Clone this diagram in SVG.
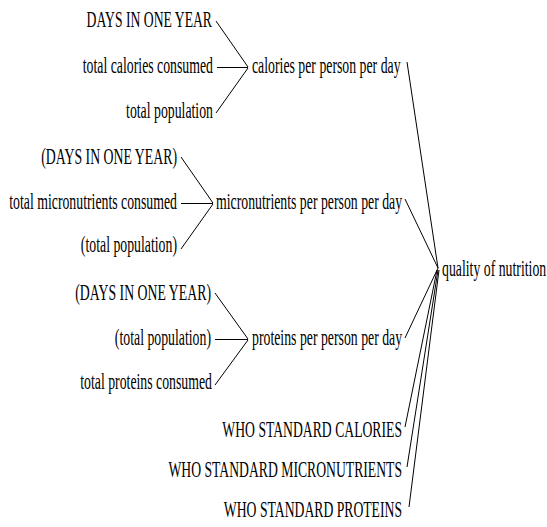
<svg xmlns="http://www.w3.org/2000/svg" width="547" height="527" viewBox="0 0 547 527">
<style>
text{font-family:"Liberation Serif","Times New Roman",serif;font-size:23px;fill:#000}
.e{text-anchor:end}
.c line{stroke:#000;stroke-width:1;fill:none}
</style>
<rect width="547" height="527" fill="#fff"/>
<g id="days1"><text class="e" transform="translate(212,27) scale(0.595,1)">DAYS IN ONE YEAR</text></g>
<g id="totcal"><text class="e" transform="translate(213,73) scale(0.6,1)">total calories consumed</text></g>
<g id="totpop1"><text class="e" transform="translate(213,118) scale(0.6,1)">total population</text></g>
<g id="calpp"><text transform="translate(252,73) scale(0.6,1)">calories per person per day</text></g>
<g id="days2"><text class="e" transform="translate(177,164) scale(0.6,1)">(DAYS IN ONE YEAR)</text></g>
<g id="totmic"><text class="e" transform="translate(177,209) scale(0.6,1)">total micronutrients consumed</text></g>
<g id="totpop2"><text class="e" transform="translate(177,252) scale(0.6,1)">(total population)</text></g>
<g id="micpp"><text transform="translate(216,209) scale(0.6,1)">micronutrients per person per day</text></g>
<g id="days3"><text class="e" transform="translate(211,300) scale(0.6,1)">(DAYS IN ONE YEAR)</text></g>
<g id="totpop3"><text class="e" transform="translate(211,345) scale(0.6,1)">(total population)</text></g>
<g id="totpro"><text class="e" transform="translate(212,389) scale(0.6,1)">total proteins consumed</text></g>
<g id="propp"><text transform="translate(252,345) scale(0.6,1)">proteins per person per day</text></g>
<g id="quality"><text transform="translate(442,276) scale(0.6,1)">quality of nutrition</text></g>
<g id="whocal"><text class="e" transform="translate(402,437) scale(0.595,1)">WHO STANDARD CALORIES</text></g>
<g id="whomic"><text class="e" transform="translate(402,477) scale(0.595,1)">WHO STANDARD MICRONUTRIENTS</text></g>
<g id="whopro"><text class="e" transform="translate(402,517) scale(0.595,1)">WHO STANDARD PROTEINS</text></g>
<g id="connectors" class="c">
<line x1="216" y1="21" x2="248" y2="67"/>
<line x1="217" y1="67.5" x2="248" y2="67.5"/>
<line x1="216" y1="113" x2="248" y2="68"/>
<line x1="407" y1="62" x2="438" y2="268"/>
<line x1="181" y1="157" x2="213" y2="203"/>
<line x1="181" y1="203.5" x2="213" y2="203.5"/>
<line x1="181" y1="249" x2="213" y2="204"/>
<line x1="405" y1="199" x2="438" y2="268"/>
<line x1="215" y1="293" x2="248" y2="339"/>
<line x1="215" y1="339.5" x2="248" y2="339.5"/>
<line x1="215" y1="385" x2="248" y2="340"/>
<line x1="405" y1="338" x2="438" y2="268"/>
<line x1="405" y1="427" x2="437" y2="270"/>
<line x1="407" y1="467" x2="438" y2="270"/>
<line x1="409" y1="507" x2="439" y2="270"/>
</g>
</svg>
